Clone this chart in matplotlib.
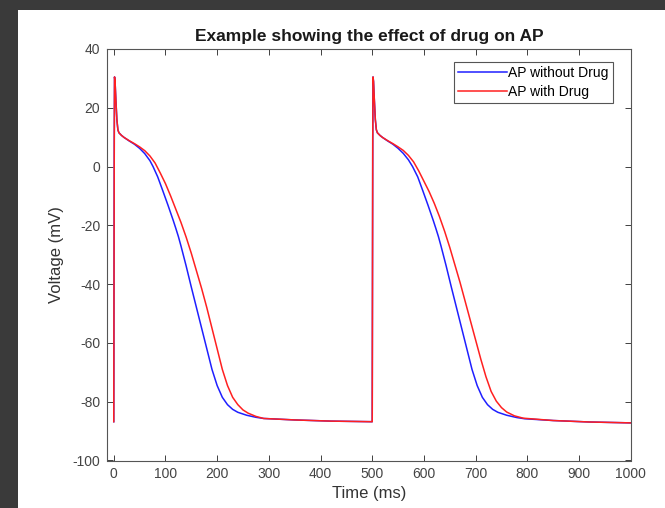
import matplotlib
matplotlib.use('Agg')
import matplotlib.pyplot as plt
from matplotlib.patches import Rectangle

plt.rcParams['font.family'] = ['Liberation Sans', 'DejaVu Sans']
plt.rcParams['axes.unicode_minus'] = False

# Action potential without drug (two beats)
t_no_drug = [0, 1, 1.5, 2.5, 4, 6, 8, 10, 15, 20, 30, 40, 50, 60, 70, 76, 85, 95,
             105, 115, 120, 125, 130, 140, 150, 160, 170, 180, 190, 200, 210, 220,
             230, 240, 257, 275, 290, 350, 420, 499.5,
             500, 501, 501.5, 502.5, 504, 506, 508, 510, 515, 520, 530, 540, 550,
             560, 570, 578, 588, 598, 608, 618, 623, 628, 633, 643, 653, 663, 673,
             683, 693, 703, 713, 723, 733, 743, 760, 780, 795, 850, 920, 1000]
v_no_drug = [-86.8, 10, 30.5, 29, 23, 16, 12.5, 11.5, 10.6, 9.9, 8.7, 7.6, 6.2, 4.4,
             2.0, 0.0, -3.5, -8.3, -13.2, -18.3, -21, -23.8, -27, -33.8, -41, -48,
             -55, -62, -69, -74.5, -78.5, -81, -82.6, -83.6, -84.6, -85.3, -85.7,
             -86.2, -86.6, -86.8,
             -86.8, 10, 30.5, 29, 23, 16, 12.5, 11.5, 10.6, 9.9, 8.7, 7.6, 6.2, 4.5,
             2.3, 0.0, -3.5, -8.3, -13.2, -18.3, -21, -23.8, -27, -33.8, -41, -48,
             -55, -62, -69, -74.5, -78.5, -81, -82.6, -83.6, -84.6, -85.4, -85.8,
             -86.4, -86.9, -87.2]

# Action potential with drug
t_drug = [0, 1, 1.5, 2.5, 4, 6, 8, 10, 15, 20, 30, 40, 50, 60, 70, 80, 90, 100,
          110, 120, 130, 140, 150, 160, 170, 180, 190, 200, 210, 220, 230, 240, 250,
          260, 275, 290, 350, 420, 499.5,
          500, 501, 501.5, 502.5, 504, 506, 508, 510, 515, 520, 530, 540, 550, 560,
          570, 580, 590, 600, 610, 620, 630, 640, 650, 660, 670, 680, 690, 700, 710,
          720, 730, 740, 750, 760, 775, 792, 850, 920, 1000]
v_drug = [-86.8, 10, 30.5, 29, 23, 16, 12.5, 11.5, 10.6, 9.9, 8.8, 7.8, 6.7, 5.4, 3.6,
          1.2, -2.2, -5.8, -10, -14.5, -19, -24, -29.5, -35.5, -41.5, -48, -55, -62,
          -69, -74.5, -78.5, -81, -82.8, -83.9, -85, -85.7, -86.2, -86.6, -86.8,
          -86.8, 10, 30.5, 29, 23, 16, 12.5, 11.5, 10.6, 9.9, 8.8, 7.8, 6.7, 5.5, 3.8,
          1.6, -1.5, -5, -8.5, -12.5, -17, -22, -27.5, -33.5, -39.5, -46, -52.5, -59,
          -65.5, -71.5, -76.5, -79.8, -82, -83.5, -84.8, -85.6, -86.4, -86.9, -87.2]

x_ticks = list(range(0, 1001, 100))
y_ticks = list(range(-100, 41, 20))

W, H = 665, 508
fig = plt.figure(figsize=(W / 100, H / 100), dpi=100, facecolor='#3a3a3a')
# white figure panel inside the dark screenshot border
fig.patches.append(Rectangle((18 / W, 0), 1 - 18 / W, 1 - 10 / H,
                             transform=fig.transFigure, facecolor='white',
                             edgecolor='none', zorder=-10))

ax = fig.add_axes([107.3 / W, 1 - 460.5 / H, 523.4 / W, 411.5 / H])
ax.plot(t_no_drug, v_no_drug, color='#1f1fff', lw=1.1, label='AP without Drug')
ax.plot(t_drug, v_drug, color='#ff2020', lw=1.1, label='AP with Drug')

ax.set_xlim(-12.5, 1000)
ax.set_ylim(-100, 40)
ax.set_xticks(x_ticks)
ax.set_yticks(y_ticks)
ax.tick_params(direction='in', length=4, width=0.7, colors='#404040',
               labelcolor='#444444', labelsize=10, top=True, right=True, pad=5)
for s in ax.spines.values():
    s.set_color('#555555')
    s.set_linewidth(0.8)

ax.set_xlabel('Time (ms)', fontsize=12, color='#333333', labelpad=3)
ax.set_ylabel('Voltage (mV)', fontsize=12, color='#333333', labelpad=6)
ax.set_title('Example showing the effect of drug on AP', fontsize=12.5,
             fontweight='bold', color='#1a1a1a', pad=6)

leg = ax.legend(loc='upper right', bbox_to_anchor=(0.966, 0.969), fontsize=10,
                fancybox=False, framealpha=1, edgecolor='#555555',
                handlelength=3.5, handletextpad=0.1, borderpad=0.3,
                labelspacing=0.35, borderaxespad=0)
leg.get_frame().set_linewidth(0.8)

fig.savefig('out.png', dpi=100, facecolor=fig.get_facecolor())
